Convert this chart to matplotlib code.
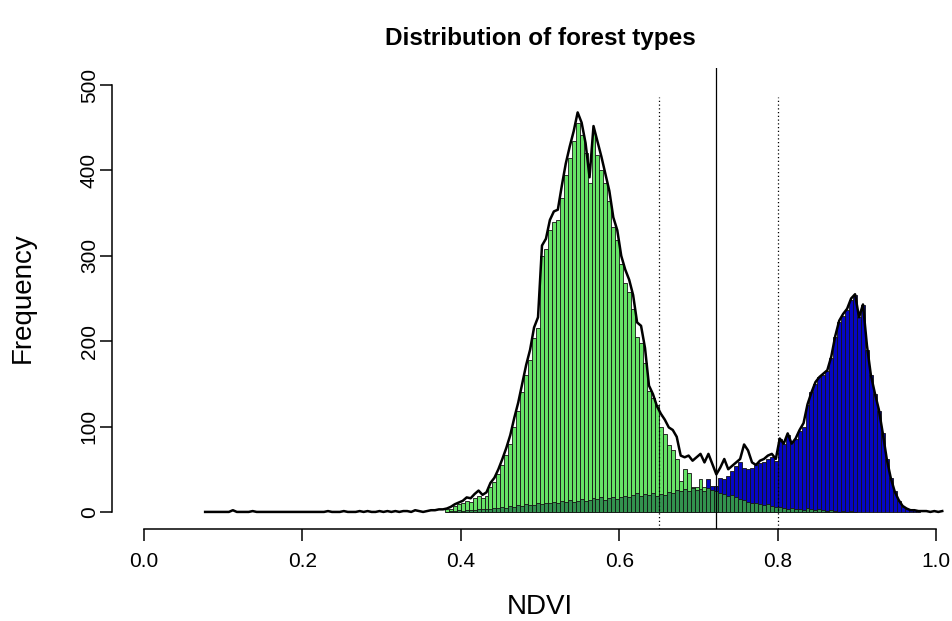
import numpy as np
import matplotlib
matplotlib.use("Agg")
import matplotlib.pyplot as plt

plt.rcParams['font.family'] = ['Liberation Sans', 'DejaVu Sans']

# ---------------- data (histogram counts, bin width 0.005) ----------------
bin_width = 0.005

# total of all forest pixels (black line), from NDVI 0.075 to 1.010
total_start = 0.075
total_low = [0, 0, 0, 0, 0, 0, 0, 2, 0, 0,
             0, 0, 1, 0, 0, 0, 0, 0, 0, 0,
             0, 0, 0, 0, 0, 0, 0, 0, 0, 0,
             0, 1, 0, 0, 0, 1, 0, 0, 0, 1,
             0, 1, 0, 0, 1, 0, 1, 0, 1, 0,
             1, 1, 0, 2, 1, 0, 1, 2, 2, 3, 3]
total_main = [4, 6, 9, 11, 13, 17, 16, 21, 25, 20,
              23, 34, 40, 50, 62, 75, 90, 110, 128, 150,
              172, 190, 216, 228, 312, 320, 342, 352, 354, 382,
              408, 428, 446, 468, 456, 432, 392, 452, 434, 416,
              396, 376, 345, 330, 300, 284, 272, 254, 222, 218,
              192, 148, 138, 124, 115, 108, 99, 96, 88, 66,
              64, 66, 60, 64, 68, 58, 68, 56, 44, 52,
              62, 50, 54, 58, 62, 79, 72, 58, 55, 60,
              62, 66, 68, 62, 86, 80, 92, 80, 86, 96,
              104, 126, 140, 152, 158, 162, 166, 182, 206, 224,
              232, 238, 250, 255, 228, 243, 195, 160, 139, 120,
              92, 62, 40, 24, 14, 7, 4, 2, 2, 1,
              1, 1, 0, 1, 0, 1]

# light green forest type
lightgreen_start = 0.380
lightgreen_counts = [3, 4, 7, 9, 10, 13, 12, 16, 19, 16,
                     19, 29, 35, 44, 55, 67, 80, 100, 118, 140,
                     160, 178, 204, 216, 300, 308, 330, 340, 342, 368,
                     395, 415, 434, 455, 442, 420, 385, 445, 418, 400,
                     385, 364, 334, 318, 290, 268, 258, 238, 205, 198,
                     175, 142, 134, 125, 100, 91, 78, 72, 62, 36,
                     50, 46, 29, 29, 38, 29, 25, 29, 10, 6,
                     4, 3, 2, 1]

# dark green forest type
darkgreen_start = 0.380
darkgreen_counts = [0, 1, 1, 2, 1, 2, 2, 2, 3, 3,
                    4, 3, 5, 5, 6, 5, 7, 6, 8, 7,
                    9, 8, 8, 10, 9, 11, 10, 12, 11, 13,
                    12, 14, 12, 13, 15, 13, 14, 16, 15, 17,
                    14, 16, 18, 15, 17, 19, 18, 20, 22, 19,
                    21, 20, 22, 19, 21, 20, 23, 22, 26, 24,
                    27, 25, 28, 26, 27, 25, 28, 26, 24, 22,
                    21, 19, 20, 17, 15, 14, 12, 11, 10, 9,
                    8, 9, 7, 6, 6, 5, 4, 5, 3, 4,
                    2, 5, 3, 2, 3, 2, 1, 2, 1, 0,
                    1, 0, 1, 0]

# blue forest type
blue_start = 0.690
blue_counts = [5, 8, 12, 20, 38, 30, 30, 40, 38, 42,
               48, 54, 58, 52, 50, 52, 55, 57, 58, 62,
               64, 60, 86, 80, 90, 82, 86, 95, 100, 125,
               140, 150, 158, 160, 165, 180, 205, 222, 230, 236,
               248, 254, 228, 242, 190, 160, 138, 118, 92, 62,
               40, 24, 13, 6, 4, 2, 2, 1]

# thresholds
dotted_thresholds = [0.65, 0.80]
solid_threshold = 0.722

x_ticks = [0.0, 0.2, 0.4, 0.6, 0.8, 1.0]
x_tick_labels = ["0.0", "0.2", "0.4", "0.6", "0.8", "1.0"]
y_ticks = [0, 100, 200, 300, 400, 500]
y_tick_labels = ["0", "100", "200", "300", "400", "500"]

title = "Distribution of forest types"
x_label = "NDVI"
y_label = "Frequency"

# ---------------- figure ----------------
W, H = 952, 621
fig = plt.figure(figsize=(W / 100, H / 100), dpi=100)
ax = fig.add_axes([112 / W, (H - 529) / H, (968 - 112) / W, (529 - 68) / H])
ax.set_xlim(-0.04, 1.04)
ax.set_ylim(-20, 520)


def centers(start, n):
    return start + bin_width * (np.arange(n) + 0.5)


edge_kw = dict(edgecolor="#141414", linewidth=0.6)
ax.bar(centers(lightgreen_start, len(lightgreen_counts)), lightgreen_counts,
       width=bin_width, color="#66E366", zorder=2, **edge_kw)
ax.bar(centers(blue_start, len(blue_counts)), blue_counts,
       width=bin_width, color="#0606C4", zorder=3, **edge_kw)
ax.bar(centers(darkgreen_start, len(darkgreen_counts)), darkgreen_counts,
       width=bin_width, color="#32924E", zorder=4, **edge_kw)

total = np.array(total_low + total_main, dtype=float)
ax.plot(centers(total_start, len(total)), total, color="black",
        linewidth=1.8, solid_joinstyle="round", zorder=5)

for t in dotted_thresholds:
    ax.plot([t, t], [-20, 486], color="black", linewidth=0.9,
            linestyle=(0, (1, 2)), zorder=6)
ax.axvline(solid_threshold, color="black", linewidth=0.9, zorder=6)

for s in ["top", "right"]:
    ax.spines[s].set_visible(False)
ax.spines["left"].set_bounds(0, 500)
ax.spines["bottom"].set_bounds(0, 1.0)
for s in ["left", "bottom"]:
    ax.spines[s].set_linewidth(1.1)

ax.set_xticks(x_ticks)
ax.set_xticklabels(x_tick_labels)
ax.set_yticks(y_ticks)
ax.set_yticklabels(y_tick_labels, rotation=90, va="center")
ax.tick_params(axis="both", direction="out", length=8.5, width=1.1, labelsize=15)
ax.tick_params(axis="x", pad=8)
ax.tick_params(axis="y", pad=1)

fig.text(540 / W, 1 - 38 / H, title, ha="center", va="center",
         fontsize=17.5, fontweight="bold")
fig.text(540 / W, 1 - 607 / H, x_label, ha="center", va="center", fontsize=20)
fig.text(23 / W, 1 - 298 / H, y_label, ha="center", va="center",
         rotation=90, fontsize=20)

fig.savefig("out.png", dpi=100)
